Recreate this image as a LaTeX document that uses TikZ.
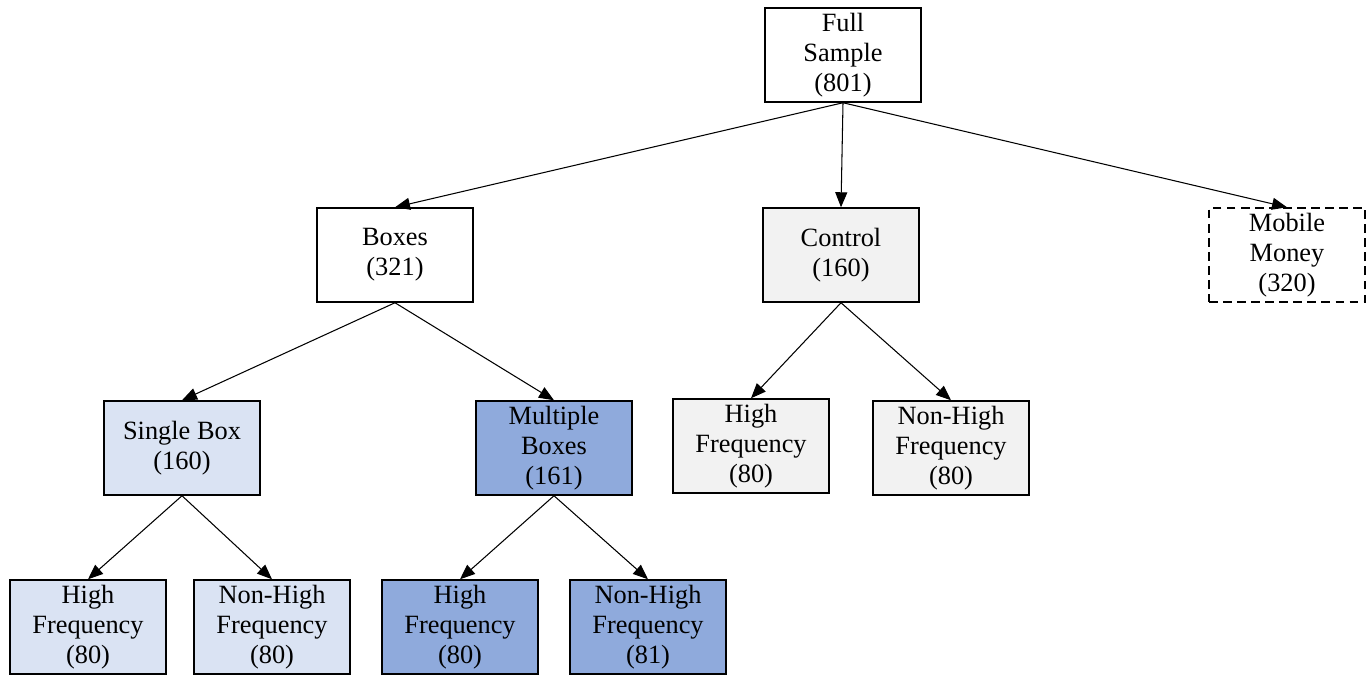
\documentclass[tikz,border=0pt]{standalone}
\usepackage{fontspec}
\setmainfont{Liberation Serif}
\usepackage{xcolor}
\usetikzlibrary{arrows.meta, positioning}
\definecolor{ctrlgray}{HTML}{F2F2F2}
\definecolor{paleblue}{HTML}{DAE3F3}
\definecolor{midblue}{HTML}{8FAADC}
\tikzset{
  group/.style={
    minimum width=3.12cm,
    minimum height=1.88cm,
    inner sep=0pt,
    align=center,
    draw=black,
    line width=0.85pt,
    font=\fontsize{15}{17}\selectfont
  },
  plainbox/.style={group, fill=white},
  ctrlbox/.style={group, fill=ctrlgray},
  singlebox/.style={group, fill=paleblue},
  multibox/.style={group, fill=midblue},
  mobilebox/.style={group, dashed, dash pattern=on 5pt off 3pt},
  arrow/.style={draw, line width=0.6pt, -{Triangle[length=0.3cm, width=0.24cm]}}
}
\begin{document}
\begin{tikzpicture}[x=0.02cm, y=-0.02cm, every edge/.style={arrow}]
  \useasboundingbox (0,0) rectangle (1372,677);
  \node (full) [plainbox] at (843, 55) {Full\\Sample\\(801)};
  \node (boxes) [plainbox] at (395, 255) {Boxes\\(321)};
  \node (control) [ctrlbox] at (841, 255) {Control\\(160)};
  \node (mobile) [mobilebox] at (1287, 255) {Mobile\\Money\\(320)};
  \node (single) [singlebox] at (182, 448) {Single Box\\(160)};
  \node (multiple) [multibox] at (554, 448) {Multiple\\Boxes\\(161)};
  \node (ctrlhigh) [ctrlbox] at (751, 446) {High\\Frequency\\(80)};
  \node (ctrlnon) [ctrlbox] at (951, 448) {Non-High\\Frequency\\(80)};
  \node (singlehigh) [singlebox] at (88, 627) {High\\Frequency\\(80)};
  \node (singlenon) [singlebox] at (272, 627) {Non-High\\Frequency\\(80)};
  \node (multihigh) [multibox] at (460, 627) {High\\Frequency\\(80)};
  \node (multinon) [multibox] at (648, 627) {Non-High\\Frequency\\(81)};
  \path
  (full.south) edge (boxes.north) edge (control.north) edge (mobile.north)
  (boxes.south) edge (single.north) edge (multiple.north)
  (control.south) edge (ctrlhigh.north) edge (ctrlnon.north)
  (single.south) edge (singlehigh.north) edge (singlenon.north)
  (multiple.south) edge (multihigh.north) edge (multinon.north)
  ;
\end{tikzpicture}
\end{document}
